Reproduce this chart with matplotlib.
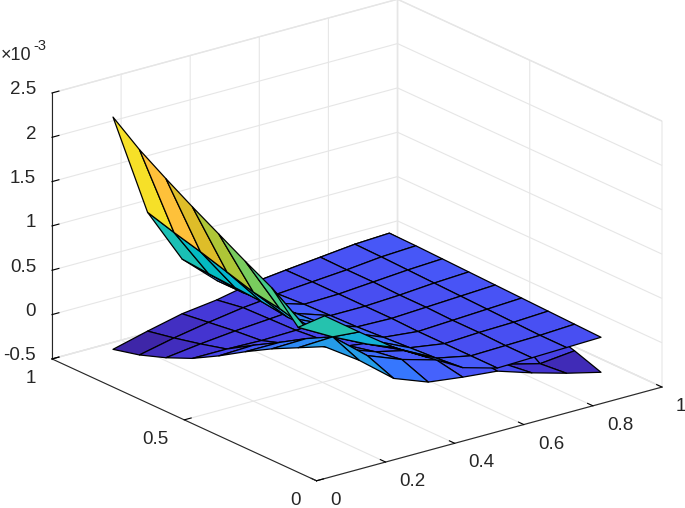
import numpy as np
import matplotlib
matplotlib.use('Agg')
import matplotlib.pyplot as plt
from matplotlib.colors import LinearSegmentedColormap, Normalize
from matplotlib.transforms import Bbox
from mpl_toolkits.mplot3d.art3d import Poly3DCollection
from mpl_toolkits.mplot3d import proj3d

plt.rcParams['font.family'] = ['Liberation Sans', 'DejaVu Sans']

x_nodes = [0.1, 0.2, 0.3, 0.4, 0.5, 0.6, 0.7, 0.8, 0.9]
y_nodes = [0.9, 0.8, 0.7, 0.6, 0.5, 0.4, 0.3, 0.2, 0.1]

# rows: y = .9 ... .1, columns: x = .1 ... .9, values in units of 1e-3
peak_sheet = [
    [2.26, 1.08, .447, .10, -.04, .005, .045, .086, .105],
    [2.03, .99, .42, .10, -.02, .01, .04, .08, .10],
    [1.84, .91, .40, .12, .0, .01, .04, .07, .09],
    [1.66, .82, .38, .14, .01, .01, .03, .06, .08],
    [1.49, .73, .34, .16, .02, .01, .03, .05, .07],
    [1.32, .68, .34, .20, .04, .0, .02, .04, .06],
    [1.16, .60, .38, .24, .06, .0, .02, .03, .05],
    [.85, .637, .45, .28, .08, .0, .01, .02, .04],
    [1.117, .83, .55, .33, .11, .0, .01, .02, .03],
]
bowl_sheet = [
    [-.36, -.26, -.17, -.12, -.04, .005, .045, .086, .105],
    [-.286, -.20, -.13, -.07, -.03, .0, .03, .055, .086],
    [-.18, -.13, -.09, -.06, -.03, -.01, .01, .03, .045],
    [-.05, -.05, -.06, -.05, -.03, -.02, -.01, .0, .005],
    [.116, .13, .04, -.02, -.03, -.03, -.03, -.03, -.04],
    [.30, .30, .16, .05, .0, -.01, -.03, -.07, -.12],
    [.47, .48, .26, .12, .03, -.01, -.04, -.09, -.17],
    [.62, .637, .32, .17, .06, .0, -.20, -.30, -.26],
    [.77, .51, .20, .053, .003, -.035, -.16, -.27, -.365],
]
z_ticks = [-0.5, 0, 0.5, 1, 1.5, 2, 2.5]
z_tick_labels = ['-0.5', '0', '0.5', '1', '1.5', '2', '2.5']
x_ticks = [0, 0.2, 0.4, 0.6, 0.8, 1]
x_tick_labels = ['0', '0.2', '0.4', '0.6', '0.8', '1']
y_ticks = [0, 0.5, 1]
y_tick_labels = ['0', '0.5', '1']

parula_rgb = [
 (.2422,.1504,.6603),(.2504,.1650,.7076),(.2578,.1818,.7511),(.2647,.1978,.7952),(.2706,.2147,.8364),
 (.2751,.2342,.8710),(.2783,.2559,.8991),(.2803,.2782,.9221),(.2813,.3006,.9414),(.2810,.3228,.9579),
 (.2795,.3447,.9717),(.2760,.3667,.9829),(.2699,.3892,.9906),(.2602,.4123,.9952),(.2440,.4358,.9988),
 (.2206,.4603,.9973),(.1963,.4847,.9892),(.1834,.5074,.9798),(.1786,.5289,.9682),(.1764,.5499,.9520),
 (.1687,.5703,.9359),(.1540,.5902,.9218),(.1460,.6091,.9079),(.1380,.6276,.8973),(.1248,.6459,.8883),
 (.1113,.6635,.8763),(.0952,.6798,.8598),(.0689,.6948,.8394),(.0297,.7082,.8163),(.0036,.7203,.7917),
 (.0067,.7312,.7660),(.0433,.7411,.7394),(.0964,.7500,.7120),(.1408,.7584,.6842),(.1717,.7670,.6554),
 (.1938,.7758,.6251),(.2161,.7843,.5923),(.2470,.7918,.5567),(.2906,.7973,.5188),(.3406,.8008,.4789),
 (.3909,.8029,.4354),(.4456,.8024,.3909),(.5044,.7993,.3480),(.5616,.7942,.3045),(.6174,.7876,.2612),
 (.6720,.7793,.2227),(.7242,.7698,.1910),(.7738,.7598,.1646),(.8203,.7498,.1535),(.8634,.7406,.1596),
 (.9035,.7330,.1774),(.9393,.7288,.2100),(.9728,.7298,.2394),(.9956,.7434,.2371),(.9970,.7659,.2199),
 (.9952,.7893,.2028),(.9892,.8136,.1885),(.9786,.8386,.1766),(.9676,.8639,.1643),(.9610,.8890,.1537),
 (.9597,.9135,.1423),(.9628,.9373,.1265),(.9691,.9606,.1064),(.9769,.9839,.0805)]
parula = LinearSegmentedColormap.from_list('parula', parula_rgb)
norm = Normalize(-.365, 2.46)

fig = plt.figure(figsize=(6.85, 5.08), dpi=100)
ax = fig.add_axes([0.05, 0.05, 0.9, 0.9], projection='3d', proj_type='ortho')
ax.view_init(elev=20.7, azim=-127.5)
ax.set_box_aspect((435, 434, 284))

polys, cols = [], []
for sheet, is_peak in ((peak_sheet, True), (bowl_sheet, False)):
    Z = np.array(sheet)
    for r in range(8):
        for c in range(8):
            polys.append([(x_nodes[c], y_nodes[r], Z[r, c]),
                          (x_nodes[c+1], y_nodes[r], Z[r, c+1]),
                          (x_nodes[c+1], y_nodes[r+1], Z[r+1, c+1]),
                          (x_nodes[c], y_nodes[r+1], Z[r+1, c])])
            v = max(Z[r, c], Z[r+1, c]) if is_peak else Z[r, c]
            cols.append(parula(norm(v)))
surf = Poly3DCollection(polys, facecolors=cols, edgecolors='k', linewidths=0.9, zsort='average')
ax.add_collection3d(surf)
ax.set_xlim(0, 1); ax.set_ylim(0, 1); ax.set_zlim(-0.5, 2.5)

ax.set_xticks(x_ticks); ax.set_xticklabels([''] * len(x_ticks))
ax.set_yticks(y_ticks); ax.set_yticklabels([''] * len(y_ticks))
ax.set_zticks(z_ticks); ax.set_zticklabels([''] * len(z_ticks))
for a in (ax.xaxis, ax.yaxis, ax.zaxis):
    a.set_pane_color((1, 1, 1, 1))
    a.pane.set_edgecolor((.9, .9, .9, 1))
    a.line.set_color('#262626'); a.line.set_linewidth(0.8)
    a._axinfo['grid'].update(color='#e6e6e6', linewidth=0.8)
    a._axinfo['tick'].update(inward_factor=0.0, outward_factor=0.25, linewidth={True: .8, False: .8}, color='#262626')

# Fit the projected box to the reference's corner positions
W, H = 685, 508
def disp(px, py, pz):
    xs, ys, _ = proj3d.proj_transform(px, py, pz, ax.get_proj())
    return ax.transData.transform((xs, ys))
pos = ax.get_position()
for _ in range(3):
    fig.canvas.draw()
    a = disp(0, 1, -0.5); b = disp(1, 0, -0.5)
    s = np.hypot(610, 28) / np.hypot(*(b - a))
    c0 = np.array([(pos.x0 + pos.width / 2) * W, (pos.y0 + pos.height / 2) * H])
    w = pos.width * W * s; h = pos.height * H * s
    mid = (a + b) / 2
    midt = np.array([(52 + 662) / 2, H - (359 + 387) / 2])
    offs = midt - (c0 + (mid - c0) * s)
    pos = Bbox.from_bounds((c0[0] + offs[0] - w / 2) / W, (c0[1] + offs[1] - h / 2) / H, w / W, h / H)
    ax.set_position(pos)
fig.canvas.draw()

def tick_label(point, text, dx, dy, ha):
    p = disp(*point)
    fig.text((p[0] + dx) / W, (p[1] + dy) / H, text, fontsize=13.5, color='#262626', ha=ha, va='center')

for v, t in zip(x_ticks, x_tick_labels):
    tick_label((v, 0, -0.5), t, 14, -19.5, 'left')
for v, t in zip(y_ticks, y_tick_labels):
    tick_label((0, v, -0.5), t, -16, -20, 'right')
for v, t in zip(z_ticks, z_tick_labels):
    tick_label((0, 1, v), t, -16, 3, 'right')

fig.text(1 / W, 1 - 55 / H, '\u00d710', fontsize=13, color='#262626', va='center', ha='left')
fig.text(33 / W, 1 - 46 / H, '-3', fontsize=10.5, color='#262626', va='center', ha='left')
fig.savefig('out.png', dpi=100)
